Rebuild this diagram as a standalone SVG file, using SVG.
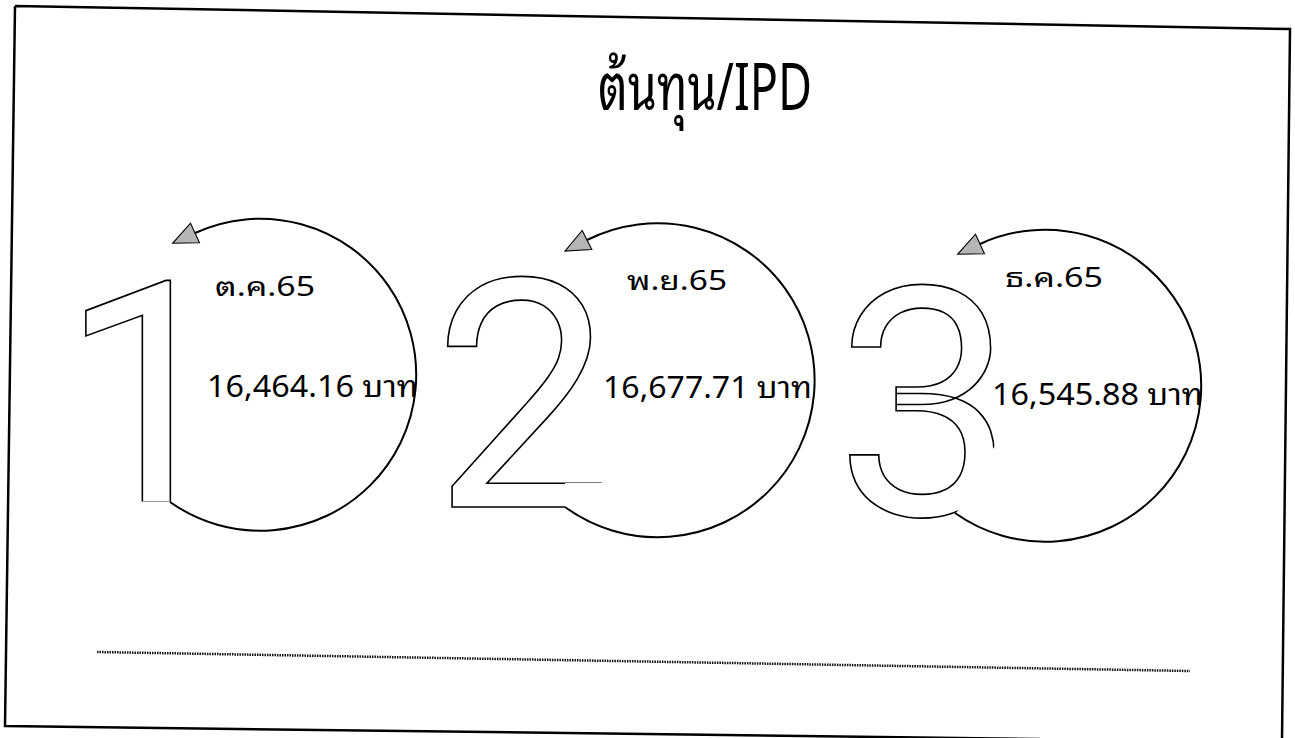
<svg xmlns="http://www.w3.org/2000/svg" width="1295" height="738" viewBox="0 0 1295 738">
<defs>
<style>
.digit{font-family:Roboto,sans-serif;font-size:320px;fill:none;stroke:#000;stroke-width:1.6}
.arc{fill:none;stroke:#000;stroke-width:2;marker-end:url(#ah)}
.month{font-family:"Noto Sans Thai Looped","Loma","Noto Sans Thai","Garuda","Noto Sans",sans-serif;font-size:27px;font-weight:400;fill:#000}
.amt{font-family:"Noto Sans","Noto Sans Thai Looped","Noto Sans Thai","Loma",sans-serif;font-size:30px;fill:#000}
.title{font-family:"Noto Sans Thai Looped","Loma","Noto Sans Thai","Garuda","Noto Sans",sans-serif;font-size:66px;fill:#000}
.frame{fill:none;stroke:#000;stroke-width:2.5}
.dots{fill:none;stroke:#111;stroke-width:2.5;stroke-dasharray:1.5 1}
</style>
<marker id="ah" markerUnits="userSpaceOnUse" markerWidth="30" markerHeight="30" viewBox="-2 -12 28 24" refX="0" refY="0" orient="auto">
<path d="M0,-10 L23,0 L0,10 Z" fill="#b5b5b5" stroke="#000" stroke-width="1"/>
</marker>
<clipPath id="c1"><rect x="0" y="150" width="420" height="351.5"/></clipPath>
<clipPath id="c2"><polygon points="400,150 800,150 800,483 565,483 565,600 400,600"/></clipPath>
<clipPath id="c3"><polygon points="780,150 1100,150 1100,442 997,442 955,515 955,600 780,600"/></clipPath>
</defs>
<rect width="1295" height="738" fill="#fff"/>
<g id="frame">
<path class="frame" d="M15,6 L1290,29 L1282,740 M15,6 L5,726 L1040,739"/>
</g>
<g id="title">
<text class="title" x="598" y="110" textLength="214" lengthAdjust="spacingAndGlyphs">ต้นทุน/IPD</text>
</g>
<g id="node1">
<text class="digit" style="font-size:310px" x="60" y="502" clip-path="url(#c1)">1</text>
<text class="month" x="215" y="296" textLength="100" lengthAdjust="spacingAndGlyphs">ต.ค.65</text>
<text class="amt" x="207" y="397" textLength="211" lengthAdjust="spacingAndGlyphs">16,464.16 บาท</text>
</g>
<g id="node2">
<text class="digit" x="433" y="507" clip-path="url(#c2)">2</text>
<text class="month" x="627" y="290" textLength="100" lengthAdjust="spacingAndGlyphs">พ.ย.65</text>
<text class="amt" x="603" y="398" textLength="209" lengthAdjust="spacingAndGlyphs">16,677.71 บาท</text>
</g>
<g id="node3">
<text class="digit" x="835" y="515" clip-path="url(#c3)">3</text>
<text class="month" x="1005" y="287" textLength="98" lengthAdjust="spacingAndGlyphs">ธ.ค.65</text>
<text class="amt" x="992" y="405" textLength="211" lengthAdjust="spacingAndGlyphs">16,545.88 บาท</text>
</g>
<g id="connectors">
<path class="arc" d="M170,502 A156,156 0 1 0 195,233"/>
<path class="arc" d="M565,507 A157,157 0 1 0 587,240"/>
<path class="arc" d="M955,513 A156,156 0 1 0 980,244"/>
</g>
<g id="rule">
<path class="dots" d="M97,652 L1190,671"/>
</g>
</svg>
